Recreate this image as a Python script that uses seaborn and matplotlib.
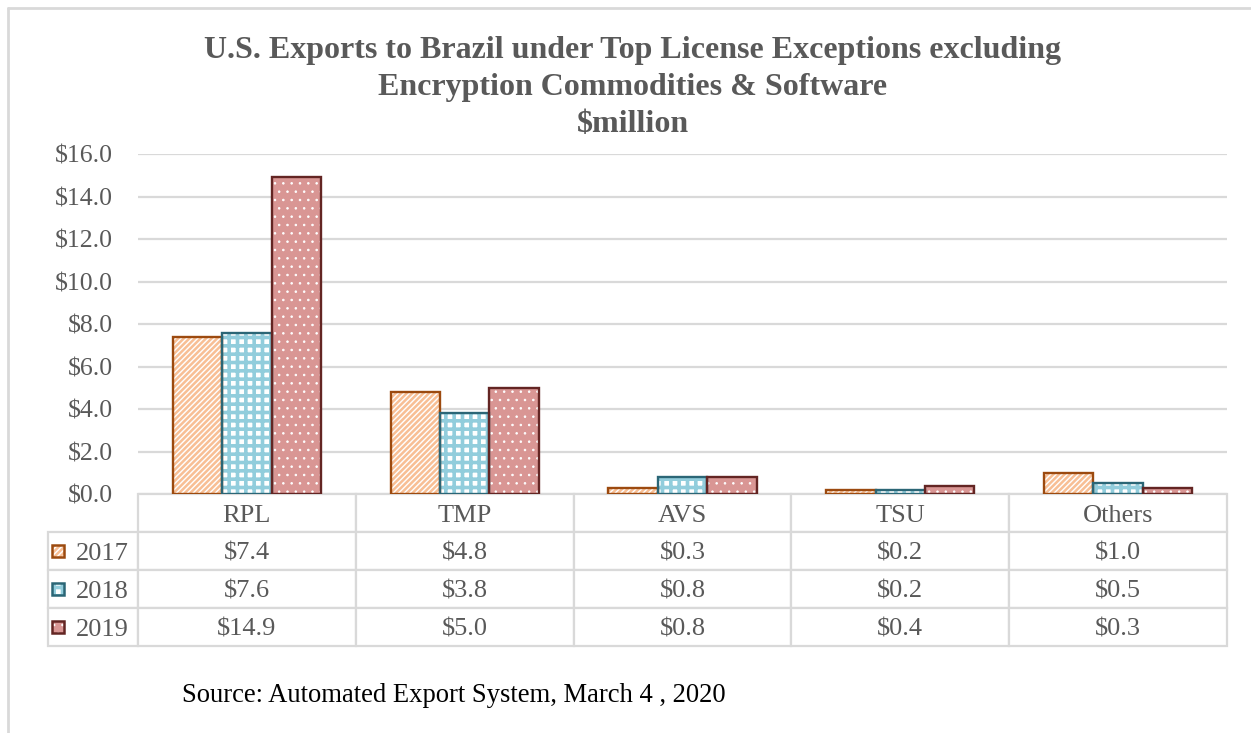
import matplotlib
matplotlib.use("Agg")
import matplotlib.pyplot as plt
from matplotlib.lines import Line2D
from matplotlib.patches import Rectangle
import pandas as pd
import seaborn as sns

# chart data
categories = ["RPL", "TMP", "AVS", "TSU", "Others"]
years = ["2017", "2018", "2019"]
values_2017 = [7.4, 4.8, 0.3, 0.2, 1.0]
values_2018 = [7.6, 3.8, 0.8, 0.2, 0.5]
values_2019 = [14.9, 5.0, 0.8, 0.4, 0.3]
y_ticks = [0, 2, 4, 6, 8, 10, 12, 14, 16]

title_lines = [
    "U.S. Exports to Brazil under Top License Exceptions excluding",
    "Encryption Commodities & Software",
    "$million",
]
source_text = "Source: Automated Export System, March 4 , 2020"

# bar styles: face, hatch, hatch colour, hatch width, outline
styles = {
    "2017": dict(face="white", hatch="//////", hcolor="#F8BF95", hlw=1.8, edge="#9C4A0F"),
    "2018": dict(face="white", hatch="++", hcolor="#92CDDC", hlw=2.6, edge="#2B6676"),
    "2019": dict(face="#D99694", hatch="..", hcolor="white", hlw=0.6, edge="#632523"),
}

GRAY = "#595959"
LINE = "#D9D9D9"

sns.set_style("white")
plt.rcParams["font.family"] = ["Liberation Serif", "DejaVu Serif"]
plt.rcParams["hatch.linewidth"] = 1.8


def style_patch(p, st):
    p.set_facecolor(st["face"])
    p.set_edgecolor(st["hcolor"])
    p.set_hatch(st["hatch"])
    p.set_linewidth(0)
    if hasattr(p, "set_hatch_linewidth"):
        p.set_hatch_linewidth(st["hlw"])


df = pd.DataFrame({
    "category": categories * 3,
    "year": [y for y in years for _ in categories],
    "value": values_2017 + values_2018 + values_2019,
})

W, H = 1251, 733
fig = plt.figure(figsize=(W / 100, H / 100), dpi=100)
ax = fig.add_axes([138 / W, 1 - 494 / H, (1227 - 138) / W, (494 - 154) / H])

sns.barplot(
    data=df, x="category", y="value", hue="year", order=categories,
    hue_order=years, palette=[styles[y]["face"] for y in years],
    width=0.68, saturation=1, legend=False, ax=ax,
)

# hatch drawn in its own colour, outline drawn on top
for cont, yr in zip(ax.containers, years):
    st = styles[yr]
    for bar in cont:
        style_patch(bar, st)
        ax.add_patch(Rectangle(bar.get_xy(), bar.get_width(), bar.get_height(),
                               fill=False, edgecolor=st["edge"], linewidth=1.7,
                               zorder=bar.get_zorder() + 0.1))

ax.set_ylim(0, 16)
ax.set_xlim(-0.5, len(categories) - 0.5)
ax.set_yticks(y_ticks)
ax.set_yticklabels([f"${v:.1f}" for v in y_ticks])
ax.set_xticks([])
ax.set_xlabel("")
ax.set_ylabel("")
ax.tick_params(axis="y", length=0, pad=18, labelsize=18.5, labelcolor=GRAY)
ax.yaxis.grid(True, color=LINE, linewidth=1.6)
ax.set_axisbelow(True)
for s in ax.spines.values():
    s.set_visible(False)

# data table under the bars (first column holds the year labels)
cell_text = [[yr] + [f"${v:.1f}" for v in vals]
             for yr, vals in zip(years, (values_2017, values_2018, values_2019))]
label_w = (138 - 48) / (1227 - 138)
tab_h = (646 - 494) / (494 - 154)
tbl = ax.table(cellText=cell_text, colLabels=[""] + categories,
               cellLoc="center", colWidths=[label_w] + [0.2] * 5,
               bbox=[-label_w, -tab_h, 1 + label_w, tab_h])
tbl.auto_set_font_size(False)
for (r, c), cell in tbl.get_celld().items():
    cell.set_edgecolor(LINE)
    cell.set_linewidth(1.6)
    txt = cell.get_text()
    txt.set_fontsize(19)
    txt.set_color(GRAY)
    txt.set_va("center_baseline")
    if c == 0:
        if r == 0:
            cell.visible_edges = ""
        else:
            cell._loc = "left"
            txt.set_ha("left")
            cell.PAD = 0.31

# legend keys inside the year cells
key = 12 / (1227 - 138)
key_h = 12 / (494 - 154)
row_h = tab_h / 4
x0 = (52 - 138) / (1227 - 138)
for i, yr in enumerate(years):
    st = styles[yr]
    cy = -row_h * (i + 1.5)
    k = Rectangle((x0, cy - key_h / 2), key, key_h, transform=ax.transAxes,
                  clip_on=False, zorder=5)
    style_patch(k, st)
    ax.add_patch(k)
    ax.add_patch(Rectangle((x0, cy - key_h / 2), key, key_h, transform=ax.transAxes,
                           fill=False, edgecolor=st["edge"], linewidth=1.8,
                           clip_on=False, zorder=6))

# title
for line, yc in zip(title_lines, [47, 84, 121]):
    fig.text(633 / W, 1 - yc / H, line, ha="center", va="center_baseline",
             fontsize=23, fontweight="bold", color=GRAY)

fig.text(182 / W, 1 - 693 / H, source_text, ha="left", va="center_baseline",
         fontsize=19.2, color="black")

# chart frame (top and left edges visible)
fig.add_artist(Line2D([8 / W, 8 / W], [0, 1 - 8 / H], color=LINE, linewidth=2,
                      transform=fig.transFigure))
fig.add_artist(Line2D([8 / W, 1], [1 - 8 / H, 1 - 8 / H], color=LINE, linewidth=2,
                      transform=fig.transFigure))

fig.savefig("out.png", dpi=100, facecolor="white")
